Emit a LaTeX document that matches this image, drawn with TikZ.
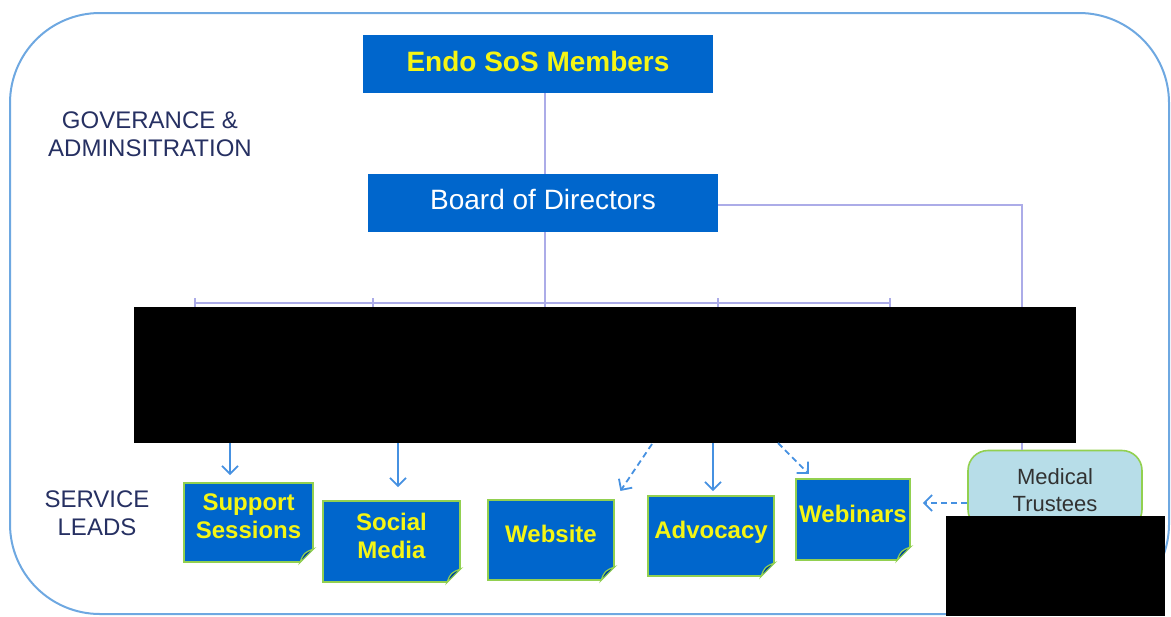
\documentclass[tikz,border=0pt]{standalone}
\usepackage{fontspec}
\setmainfont{Liberation Sans}
\usepackage{tikz}
\usetikzlibrary{arrows.meta}

\definecolor{boxblue}{RGB}{0,102,204}
\definecolor{foldblue}{RGB}{0,70,150}
\definecolor{noteedge}{RGB}{146,208,80}
\definecolor{noteyellow}{RGB}{245,245,20}
\definecolor{linelav}{RGB}{172,172,232}
\definecolor{arrowblue}{RGB}{70,145,225}
\definecolor{framblue}{RGB}{110,168,225}
\definecolor{labelnavy}{RGB}{38,48,98}
\definecolor{medfill}{RGB}{183,221,232}
\definecolor{medtext}{RGB}{50,50,50}

\begin{document}
\begin{tikzpicture}[x=0.5pt,y=-0.5pt,
    topbox/.style={rectangle,fill=boxblue,minimum width=175pt,minimum height=29pt,inner sep=0pt},
    note/.style={rectangle,fill=boxblue,draw=noteedge,line width=0.8pt,text=noteyellow,
                 font=\bfseries\fontsize{12}{14}\selectfont,align=center,inner sep=0pt,
                 text depth=6pt},
    sidelabel/.style={text=labelnavy,font=\fontsize{12}{14}\selectfont,align=center},
    bus/.style={draw=linelav,line width=1pt},
    lead/.style={draw=arrowblue,line width=0.9pt,-{Straight Barb[length=4pt,width=8pt]}},
    dottedlead/.style={lead,dash pattern=on 3pt off 2pt},
    redact/.style={rectangle,fill=black,inner sep=0pt}]
\useasboundingbox (0,0) rectangle (1171,616);

% outer frame
\draw[framblue,line width=1pt,rounded corners=45pt] (10,13) rectangle (1169,614);

% side labels
\node[sidelabel] (gov) at (150,134) {GOVERANCE \&\\ADMINSITRATION};
\node[sidelabel] (leads) at (97,513) {SERVICE\\LEADS};

% governance
\begin{scope}[every node/.style={topbox}]
    \node[text depth=2pt] (members) at (538,63.5) {\textcolor{noteyellow}{\bfseries\fontsize{14}{16}\selectfont Endo SoS Members}};
    \node[text depth=4pt] (board) at (543,203) {\textcolor{white}{\fontsize{14}{16}\selectfont Board of Directors}};
\end{scope}

% service leads
\begin{scope}[every node/.style={note}]
    \node[minimum width=64.5pt,minimum height=39.5pt] (ss) at (248.5,522.5) {Support\\Sessions};
    \node[minimum width=68.5pt,minimum height=40.5pt] (sm) at (391.5,541.5) {Social\\Media};
    \node[minimum width=63pt,minimum height=40pt] (ws) at (551,540) {Website};
    \node[minimum width=63pt,minimum height=40pt] (adv) at (711,536) {Advocacy};
    \node[minimum width=57pt,minimum height=40.5pt] (web) at (853,519.5) {Webinars};
\end{scope}
\foreach \n in {ss,sm,ws,adv,web}{
    \fill[white] ([xshift=-7pt]\n.south east) -- (\n.south east) -- ([yshift=7pt]\n.south east) -- cycle;
    \filldraw[fill=foldblue,draw=noteedge,line width=0.6pt] ([xshift=-7pt]\n.south east)
        .. controls ([xshift=-5pt,yshift=5pt]\n.south east) .. ([yshift=7pt]\n.south east) -- cycle;
}

\node[rectangle,rounded corners=10pt,fill=medfill,draw=noteedge,line width=0.8pt,
      minimum width=87pt,minimum height=39.5pt,align=center,text=medtext,
      font=\fontsize{11}{13.5}\selectfont] (med) at (1055,490) {Medical\\Trustees};

% lines
\coordinate (busL) at (195,303);
\coordinate (busR) at (890,303);
\coordinate (trunk) at (545,303);
\coordinate (corner) at (1022,205);
\draw[bus] (members.south -| trunk) -- (board.north -| trunk);
\draw[bus] (board.south -| trunk) -- (trunk);
\draw[bus] (busL) -- (busR);
\draw[bus] (board.east |- corner) -- (corner) -- (corner |- med.north);
\foreach \x in {195,373,545,718,890}
    \draw[bus] (\x,298) -- (\x,330);

% redacted areas
\node[redact,minimum width=471pt,minimum height=68pt] (black1) at (605,375) {};
\node[redact,minimum width=109.5pt,minimum height=50pt] (black2) at (1055.5,566) {};

% arrows to the leads
\coordinate (a1) at (230,443);
\coordinate (a2) at (398,443);
\coordinate (a3) at (652,444);
\coordinate (a4) at (713,443);
\coordinate (a5) at (778,443);
\draw[lead,shorten >=3.5pt] (a1) -- (a1 |- ss.north);
\draw[lead,shorten >=6.5pt] (a2) -- (a2 |- sm.north);
\draw[dottedlead,shorten >=5pt] (a3) -- (ws.north east);
\draw[lead,shorten >=2pt] (a4) -- (a4 |- adv.north);
\draw[dottedlead,shorten >=3pt] (a5) -- ([xshift=-20pt]web.north);
\draw[dottedlead,shorten >=6pt] (med.west |- 0,503) -- (web.east |- 0,503);
\end{tikzpicture}
\end{document}
